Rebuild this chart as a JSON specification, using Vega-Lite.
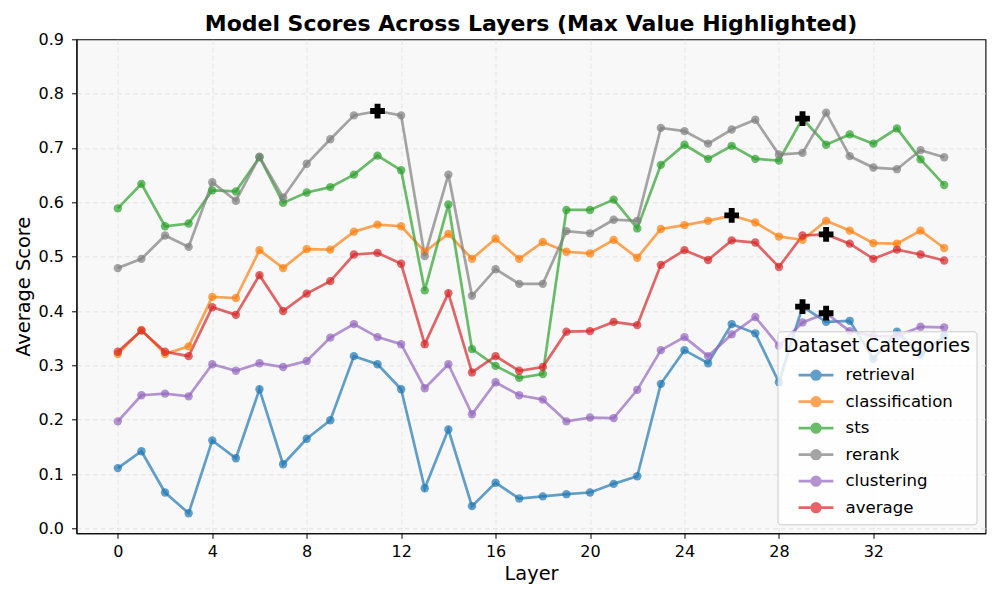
{
"$schema": "https://vega.github.io/schema/vega-lite/v6.json",
"width": 909, "height": 494,
"autosize": {"type": "none"},
"padding": {"left": 76.5, "top": 39.3, "right": 14.5, "bottom": 66.7},
"background": "white",
"config": {
  "font": "DejaVu Sans",
  "view": {"fill": "#f8f8f8", "stroke": "black", "strokeWidth": 1.1},
  "axis": {
    "grid": true, "gridDash": [5, 3], "gridWidth": 0.8,
    "domainColor": "black", "domainWidth": 1.1, "tickColor": "black", "tickSize": 5, "tickWidth": 1,
    "labelColor": "black", "labelFontSize": 16, "labelPadding": 5,
    "titleColor": "black", "titleFontSize": 19.4, "titleFontWeight": "normal", "titlePadding": 5
  }
},
"title": {"text": "Model Scores Across Layers (Max Value Highlighted)", "fontSize": 22, "fontWeight": "bold", "color": "black", "anchor": "middle", "frame": "group", "baseline": "alphabetic", "offset": 7.6, "dy": 29},
"data": {"values": [
{"layer":0,"category":"retrieval","score":0.111},{"layer":1,"category":"retrieval","score":0.142},{"layer":2,"category":"retrieval","score":0.066},{"layer":3,"category":"retrieval","score":0.028},{"layer":4,"category":"retrieval","score":0.162},{"layer":5,"category":"retrieval","score":0.129},{"layer":6,"category":"retrieval","score":0.256},{"layer":7,"category":"retrieval","score":0.118},{"layer":8,"category":"retrieval","score":0.165},{"layer":9,"category":"retrieval","score":0.199},{"layer":10,"category":"retrieval","score":0.317},{"layer":11,"category":"retrieval","score":0.302},{"layer":12,"category":"retrieval","score":0.256},{"layer":13,"category":"retrieval","score":0.074},{"layer":14,"category":"retrieval","score":0.182},{"layer":15,"category":"retrieval","score":0.041},{"layer":16,"category":"retrieval","score":0.084},{"layer":17,"category":"retrieval","score":0.055},{"layer":18,"category":"retrieval","score":0.059},{"layer":19,"category":"retrieval","score":0.063},{"layer":20,"category":"retrieval","score":0.066},{"layer":21,"category":"retrieval","score":0.082},{"layer":22,"category":"retrieval","score":0.096},{"layer":23,"category":"retrieval","score":0.266},{"layer":24,"category":"retrieval","score":0.328},{"layer":25,"category":"retrieval","score":0.304},{"layer":26,"category":"retrieval","score":0.376},{"layer":27,"category":"retrieval","score":0.359},{"layer":28,"category":"retrieval","score":0.269},{"layer":29,"category":"retrieval","score":0.408},{"layer":30,"category":"retrieval","score":0.380},{"layer":31,"category":"retrieval","score":0.382},{"layer":32,"category":"retrieval","score":0.312},{"layer":33,"category":"retrieval","score":0.362},{"layer":34,"category":"retrieval","score":0.320},{"layer":35,"category":"retrieval","score":0.354},
{"layer":0,"category":"classification","score":0.321},{"layer":1,"category":"classification","score":0.365},{"layer":2,"category":"classification","score":0.321},{"layer":3,"category":"classification","score":0.335},{"layer":4,"category":"classification","score":0.426},{"layer":5,"category":"classification","score":0.424},{"layer":6,"category":"classification","score":0.512},{"layer":7,"category":"classification","score":0.479},{"layer":8,"category":"classification","score":0.514},{"layer":9,"category":"classification","score":0.513},{"layer":10,"category":"classification","score":0.546},{"layer":11,"category":"classification","score":0.559},{"layer":12,"category":"classification","score":0.556},{"layer":13,"category":"classification","score":0.509},{"layer":14,"category":"classification","score":0.542},{"layer":15,"category":"classification","score":0.496},{"layer":16,"category":"classification","score":0.533},{"layer":17,"category":"classification","score":0.496},{"layer":18,"category":"classification","score":0.527},{"layer":19,"category":"classification","score":0.509},{"layer":20,"category":"classification","score":0.506},{"layer":21,"category":"classification","score":0.531},{"layer":22,"category":"classification","score":0.498},{"layer":23,"category":"classification","score":0.551},{"layer":24,"category":"classification","score":0.558},{"layer":25,"category":"classification","score":0.566},{"layer":26,"category":"classification","score":0.576},{"layer":27,"category":"classification","score":0.563},{"layer":28,"category":"classification","score":0.537},{"layer":29,"category":"classification","score":0.531},{"layer":30,"category":"classification","score":0.566},{"layer":31,"category":"classification","score":0.548},{"layer":32,"category":"classification","score":0.525},{"layer":33,"category":"classification","score":0.524},{"layer":34,"category":"classification","score":0.548},{"layer":35,"category":"classification","score":0.516},
{"layer":0,"category":"sts","score":0.589},{"layer":1,"category":"sts","score":0.634},{"layer":2,"category":"sts","score":0.556},{"layer":3,"category":"sts","score":0.561},{"layer":4,"category":"sts","score":0.622},{"layer":5,"category":"sts","score":0.620},{"layer":6,"category":"sts","score":0.683},{"layer":7,"category":"sts","score":0.599},{"layer":8,"category":"sts","score":0.618},{"layer":9,"category":"sts","score":0.628},{"layer":10,"category":"sts","score":0.651},{"layer":11,"category":"sts","score":0.686},{"layer":12,"category":"sts","score":0.659},{"layer":13,"category":"sts","score":0.438},{"layer":14,"category":"sts","score":0.596},{"layer":15,"category":"sts","score":0.330},{"layer":16,"category":"sts","score":0.299},{"layer":17,"category":"sts","score":0.277},{"layer":18,"category":"sts","score":0.284},{"layer":19,"category":"sts","score":0.586},{"layer":20,"category":"sts","score":0.586},{"layer":21,"category":"sts","score":0.605},{"layer":22,"category":"sts","score":0.552},{"layer":23,"category":"sts","score":0.669},{"layer":24,"category":"sts","score":0.706},{"layer":25,"category":"sts","score":0.680},{"layer":26,"category":"sts","score":0.704},{"layer":27,"category":"sts","score":0.680},{"layer":28,"category":"sts","score":0.677},{"layer":29,"category":"sts","score":0.754},{"layer":30,"category":"sts","score":0.706},{"layer":31,"category":"sts","score":0.725},{"layer":32,"category":"sts","score":0.708},{"layer":33,"category":"sts","score":0.736},{"layer":34,"category":"sts","score":0.679},{"layer":35,"category":"sts","score":0.632},
{"layer":0,"category":"rerank","score":0.479},{"layer":1,"category":"rerank","score":0.496},{"layer":2,"category":"rerank","score":0.539},{"layer":3,"category":"rerank","score":0.518},{"layer":4,"category":"rerank","score":0.637},{"layer":5,"category":"rerank","score":0.603},{"layer":6,"category":"rerank","score":0.684},{"layer":7,"category":"rerank","score":0.609},{"layer":8,"category":"rerank","score":0.671},{"layer":9,"category":"rerank","score":0.716},{"layer":10,"category":"rerank","score":0.760},{"layer":11,"category":"rerank","score":0.768},{"layer":12,"category":"rerank","score":0.760},{"layer":13,"category":"rerank","score":0.501},{"layer":14,"category":"rerank","score":0.651},{"layer":15,"category":"rerank","score":0.428},{"layer":16,"category":"rerank","score":0.477},{"layer":17,"category":"rerank","score":0.450},{"layer":18,"category":"rerank","score":0.450},{"layer":19,"category":"rerank","score":0.547},{"layer":20,"category":"rerank","score":0.543},{"layer":21,"category":"rerank","score":0.568},{"layer":22,"category":"rerank","score":0.566},{"layer":23,"category":"rerank","score":0.737},{"layer":24,"category":"rerank","score":0.731},{"layer":25,"category":"rerank","score":0.708},{"layer":26,"category":"rerank","score":0.734},{"layer":27,"category":"rerank","score":0.752},{"layer":28,"category":"rerank","score":0.688},{"layer":29,"category":"rerank","score":0.691},{"layer":30,"category":"rerank","score":0.765},{"layer":31,"category":"rerank","score":0.685},{"layer":32,"category":"rerank","score":0.664},{"layer":33,"category":"rerank","score":0.661},{"layer":34,"category":"rerank","score":0.696},{"layer":35,"category":"rerank","score":0.683},
{"layer":0,"category":"clustering","score":0.197},{"layer":1,"category":"clustering","score":0.245},{"layer":2,"category":"clustering","score":0.248},{"layer":3,"category":"clustering","score":0.243},{"layer":4,"category":"clustering","score":0.302},{"layer":5,"category":"clustering","score":0.290},{"layer":6,"category":"clustering","score":0.304},{"layer":7,"category":"clustering","score":0.297},{"layer":8,"category":"clustering","score":0.308},{"layer":9,"category":"clustering","score":0.351},{"layer":10,"category":"clustering","score":0.376},{"layer":11,"category":"clustering","score":0.352},{"layer":12,"category":"clustering","score":0.339},{"layer":13,"category":"clustering","score":0.258},{"layer":14,"category":"clustering","score":0.302},{"layer":15,"category":"clustering","score":0.210},{"layer":16,"category":"clustering","score":0.269},{"layer":17,"category":"clustering","score":0.245},{"layer":18,"category":"clustering","score":0.237},{"layer":19,"category":"clustering","score":0.197},{"layer":20,"category":"clustering","score":0.204},{"layer":21,"category":"clustering","score":0.203},{"layer":22,"category":"clustering","score":0.255},{"layer":23,"category":"clustering","score":0.328},{"layer":24,"category":"clustering","score":0.352},{"layer":25,"category":"clustering","score":0.317},{"layer":26,"category":"clustering","score":0.357},{"layer":27,"category":"clustering","score":0.389},{"layer":28,"category":"clustering","score":0.336},{"layer":29,"category":"clustering","score":0.379},{"layer":30,"category":"clustering","score":0.396},{"layer":31,"category":"clustering","score":0.363},{"layer":32,"category":"clustering","score":0.354},{"layer":33,"category":"clustering","score":0.354},{"layer":34,"category":"clustering","score":0.371},{"layer":35,"category":"clustering","score":0.370},
{"layer":0,"category":"average","score":0.325},{"layer":1,"category":"average","score":0.364},{"layer":2,"category":"average","score":0.325},{"layer":3,"category":"average","score":0.317},{"layer":4,"category":"average","score":0.407},{"layer":5,"category":"average","score":0.393},{"layer":6,"category":"average","score":0.466},{"layer":7,"category":"average","score":0.400},{"layer":8,"category":"average","score":0.432},{"layer":9,"category":"average","score":0.455},{"layer":10,"category":"average","score":0.504},{"layer":11,"category":"average","score":0.507},{"layer":12,"category":"average","score":0.487},{"layer":13,"category":"average","score":0.339},{"layer":14,"category":"average","score":0.433},{"layer":15,"category":"average","score":0.287},{"layer":16,"category":"average","score":0.317},{"layer":17,"category":"average","score":0.290},{"layer":18,"category":"average","score":0.297},{"layer":19,"category":"average","score":0.362},{"layer":20,"category":"average","score":0.363},{"layer":21,"category":"average","score":0.380},{"layer":22,"category":"average","score":0.374},{"layer":23,"category":"average","score":0.485},{"layer":24,"category":"average","score":0.512},{"layer":25,"category":"average","score":0.494},{"layer":26,"category":"average","score":0.530},{"layer":27,"category":"average","score":0.526},{"layer":28,"category":"average","score":0.481},{"layer":29,"category":"average","score":0.539},{"layer":30,"category":"average","score":0.541},{"layer":31,"category":"average","score":0.524},{"layer":32,"category":"average","score":0.496},{"layer":33,"category":"average","score":0.513},{"layer":34,"category":"average","score":0.504},{"layer":35,"category":"average","score":0.493}
]},
"encoding": {
  "x": {"field": "layer", "type": "quantitative", "title": "Layer",
        "scale": {"domain": [-1.75, 36.75], "nice": false, "zero": false},
        "axis": {"values": [0, 4, 8, 12, 16, 20, 24, 28, 32], "format": "d", "gridColor": "#dedede"}},
  "y": {"field": "score", "type": "quantitative", "title": "Average Score",
        "scale": {"domain": [-0.009, 0.9], "nice": false, "zero": false},
        "axis": {"values": [0, 0.1, 0.2, 0.3, 0.4, 0.5, 0.6, 0.7, 0.8, 0.9], "format": ".1f", "labelPadding": 8,
                 "gridColor": {"condition": {"test": "datum.value >= 0.89", "value": "transparent"}, "value": "#dedede"}}},
  "color": {"field": "category", "type": "nominal",
    "scale": {"domain": ["retrieval", "classification", "sts", "rerank", "clustering", "average"],
              "range": ["#1f77b4", "#ff7f0e", "#2ca02c", "#7f7f7f", "#9467bd", "#d62728"]},
    "legend": {"title": "Dataset Categories", "orient": "bottom-right", "offset": 9,
      "titleFontSize": 19.4, "titleFontWeight": "normal", "titleColor": "black", "titlePadding": 5, "titleLimit": 400,
      "labelFontSize": 16.6, "labelColor": "black", "labelOffset": 16, "labelLimit": 300,
      "fillColor": "rgba(255,255,255,0.8)", "strokeColor": "#cccccc", "cornerRadius": 3, "padding": 6,
      "symbolType": "M-1.45,0L1.45,0M-0.36,0A0.36,0.36,0,1,1,0.36,0A0.36,0.36,0,1,1,-0.36,0Z",
      "symbolSize": 576, "symbolStrokeWidth": 2.7, "symbolOpacity": 0.7, "symbolOffset": 19,
      "rowPadding": 2.5, "zindex": 1}}
},
"layer": [
  {"mark": {"type": "line", "strokeWidth": 2.7, "opacity": 0.7}},
  {"mark": {"type": "point", "shape": "circle", "filled": true, "size": 70, "opacity": 0.7}},
  {"transform": [
     {"joinaggregate": [{"op": "max", "field": "score", "as": "maxScore"}], "groupby": ["category"]},
     {"filter": "datum.score === datum.maxScore"}],
   "mark": {"type": "point", "shape": "cross", "filled": true, "size": 216, "opacity": 1},
   "encoding": {"color": {"value": "black"}}}
]
}
